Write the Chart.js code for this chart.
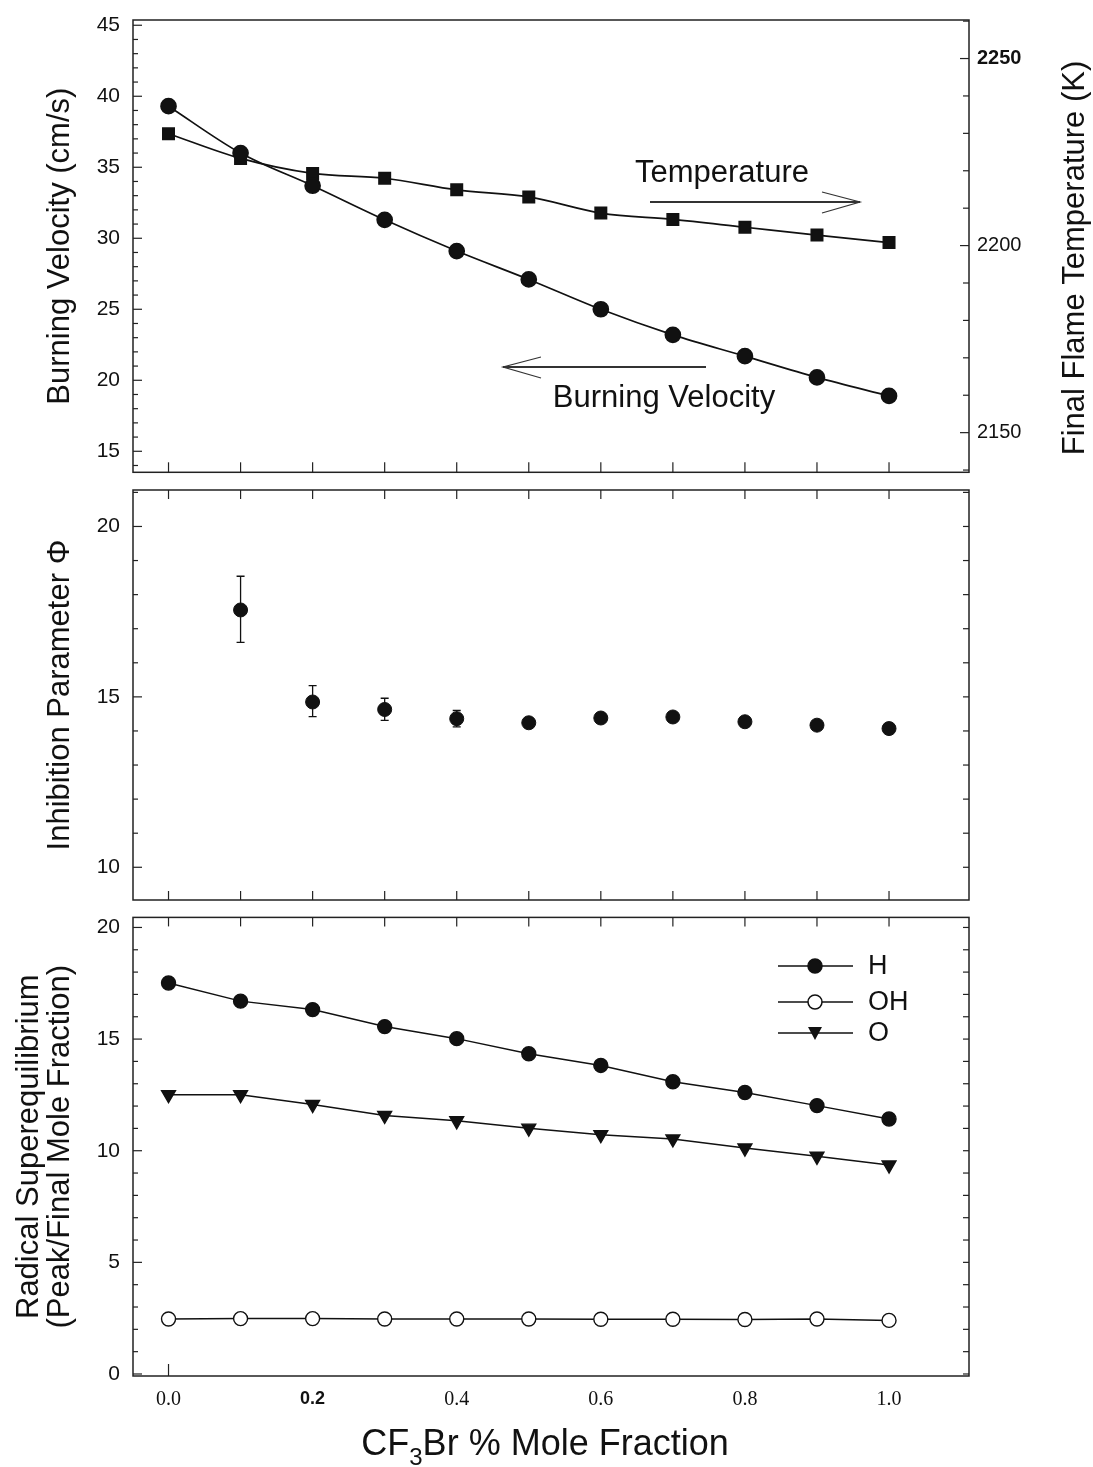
<!DOCTYPE html>
<html>
<head>
<meta charset="utf-8">
<script src="https://cdn.jsdelivr.net/npm/chart.js@4.4.0/dist/chart.umd.min.js"></script>
<style>
  html, body { margin: 0; padding: 0; background: #fff; }
  #wrap { position: relative; width: 1093px; height: 1467px; overflow: hidden; }
  canvas { position: absolute; left: 0; }
</style>
</head>
<body>
<div id="wrap">
  <canvas id="velChart" style="top:0" width="1093" height="482"></canvas>
  <canvas id="phiChart" style="top:482px" width="1093" height="426"></canvas>
  <canvas id="radChart" style="top:908px" width="1093" height="559"></canvas>
</div>
<script>
// CF3Br mole fraction (%)
const moleFraction = [0.0, 0.1, 0.2, 0.3, 0.4, 0.5, 0.6, 0.7, 0.8, 0.9, 1.0];

// top panel
const burningVelocity = [39.3, 36.0, 33.7, 31.3, 29.1, 27.1, 25.0, 23.2, 21.7, 20.2, 18.9];
const flameTemp = [2229.9, 2223.3, 2219.3, 2218.0, 2214.9, 2213.0, 2208.7, 2207.0, 2204.9, 2202.8, 2200.8];

// middle panel (no value at 0.0)
const inhibition = [null, 17.55, 14.85, 14.63, 14.36, 14.24, 14.38, 14.41, 14.27, 14.17, 14.07];
const inhibitionLow = [null, 16.6, 14.42, 14.31, 14.12, 14.10, 14.28, 14.30, 14.18, 14.08, 13.98];
const inhibitionHigh = [null, 18.54, 15.33, 14.96, 14.60, 14.38, 14.48, 14.52, 14.36, 14.26, 14.16];

// bottom panel
const radH = [17.51, 16.70, 16.32, 15.56, 15.02, 14.34, 13.82, 13.09, 12.61, 12.02, 11.42];
const radOH = [2.46, 2.48, 2.48, 2.46, 2.46, 2.46, 2.45, 2.45, 2.44, 2.46, 2.40];
const radO = [12.51, 12.51, 12.07, 11.58, 11.34, 11.01, 10.72, 10.53, 10.12, 9.75, 9.36];

// tick labels
const velTicks = [15, 20, 25, 30, 35, 40, 45];
const tempTicks = [2150, 2200, 2250];
const phiTicks = [10, 15, 20];
const radTicks = [0, 5, 10, 15, 20];
const xTicks = [0.0, 0.2, 0.4, 0.6, 0.8, 1.0];

const SANS = "'Liberation Sans', Arial, Helvetica, sans-serif";
const NARROW = "'Liberation Sans Narrow', 'Arial Narrow', 'Liberation Sans', sans-serif";
const SERIF = "'Liberation Serif', 'Times New Roman', serif";
const INK = '#111';

const X_MIN = -0.0493, X_MAX = 1.111;

function range(a, b, step) {
    const out = [];
    for (let v = a; v <= b + 1e-9; v += step) out.push(+v.toFixed(4));
    return out;
}

function pairs(ys) {
    return moleFraction.map((x, i) => ({ x: x, y: ys[i] }));
}

function fixedTicks(list) {
    return s => { s.ticks = list.map(v => ({ value: v })); };
}

// fixed axis size, and no extra room asked for the tick labels
function fixSize(w, h) {
    return s => {
        if (w != null) s.width = w;
        if (h != null) s.height = h;
        s.paddingTop = 0; s.paddingBottom = 0;
        s.paddingLeft = 0; s.paddingRight = 0;
    };
}

// x axis of the upper panels: no labels, just a fixed strip
const quietX = {
    type: 'linear', min: X_MIN, max: X_MAX,
    afterFit: fixSize(null, 5),
    grid: { display: false, drawTicks: false }, border: { display: false },
    ticks: { display: false }
};

// box round the plot + inward tick marks
const framePlugin = {
    id: 'frame',
    afterDraw(chart, args, opts) {
        const { ctx, chartArea: a } = chart;
        ctx.save();
        ctx.strokeStyle = '#222';
        ctx.lineWidth = 1.5;
        ctx.strokeRect(a.left, a.top, a.right - a.left, a.bottom - a.top);
        ctx.lineWidth = 1.2;
        (opts.marks || []).forEach(m => {
            const s = chart.scales[m.scale];
            m.values.forEach(v => {
                const p = s.getPixelForValue(v);
                const len = (m.major && m.major.includes(v)) ? m.len : (m.minorLen || m.len);
                ctx.beginPath();
                if (m.side === 'left') { if (p < a.top || p > a.bottom) return; ctx.moveTo(a.left, p); ctx.lineTo(a.left + len, p); }
                if (m.side === 'right') { if (p < a.top || p > a.bottom) return; ctx.moveTo(a.right, p); ctx.lineTo(a.right - len, p); }
                if (m.side === 'bottom') { ctx.moveTo(p, a.bottom); ctx.lineTo(p, a.bottom - len); }
                if (m.side === 'top') { ctx.moveTo(p, a.top); ctx.lineTo(p, a.top + len); }
                ctx.stroke();
            });
        });
        ctx.restore();
    }
};

// free text, arrows and rotated titles
const notesPlugin = {
    id: 'notes',
    afterDraw(chart, args, opts) {
        const ctx = chart.ctx;
        ctx.save();
        ctx.fillStyle = INK;
        (opts.texts || []).forEach(t => {
            ctx.save();
            ctx.font = t.font;
            ctx.textAlign = 'center';
            ctx.textBaseline = 'middle';
            ctx.translate(t.x, t.y);
            if (t.rotate) ctx.rotate(t.rotate);
            ctx.fillText(t.text, 0, 0);
            ctx.restore();
        });
        (opts.arrows || []).forEach(ar => {
            ctx.strokeStyle = '#333';
            ctx.lineWidth = 2;
            ctx.beginPath();
            ctx.moveTo(ar.x1, ar.y);
            ctx.lineTo(ar.x2, ar.y);
            ctx.stroke();
            const dir = ar.x2 > ar.x1 ? -1 : 1;
            ctx.lineWidth = 1.2;
            ctx.beginPath();
            ctx.moveTo(ar.x2 + dir * 38, ar.y - 10);
            ctx.lineTo(ar.x2, ar.y);
            ctx.lineTo(ar.x2 + dir * 38, ar.y + 11);
            ctx.stroke();
        });
        ctx.restore();
    }
};

// vertical error bars for the inhibition parameter
const errorBarPlugin = {
    id: 'errbars',
    beforeDatasetsDraw(chart) {
        const { ctx } = chart;
        const xs = chart.scales.x, ys = chart.scales.y;
        ctx.save();
        ctx.strokeStyle = INK;
        ctx.lineWidth = 1.3;
        moleFraction.forEach((x, i) => {
            if (inhibitionLow[i] == null) return;
            const px = xs.getPixelForValue(x);
            const top = ys.getPixelForValue(inhibitionHigh[i]);
            const bot = ys.getPixelForValue(inhibitionLow[i]);
            ctx.beginPath();
            ctx.moveTo(px, top); ctx.lineTo(px, bot);
            ctx.moveTo(px - 4, top); ctx.lineTo(px + 4, top);
            ctx.moveTo(px - 4, bot); ctx.lineTo(px + 4, bot);
            ctx.stroke();
        });
        ctx.restore();
    }
};

// legend drawn inside the bottom plot
const radLegendPlugin = {
    id: 'radLegend',
    afterDraw(chart) {
        const ctx = chart.ctx;
        const rows = [
            { label: 'H', y: 58, style: 'dot' },
            { label: 'OH', y: 94, style: 'ring' },
            { label: 'O', y: 125, style: 'tri' }
        ];
        ctx.save();
        rows.forEach(r => {
            ctx.strokeStyle = INK;
            ctx.lineWidth = 1.5;
            ctx.beginPath();
            ctx.moveTo(778, r.y); ctx.lineTo(853, r.y);
            ctx.stroke();
            ctx.beginPath();
            if (r.style === 'tri') {
                ctx.moveTo(808, r.y - 6); ctx.lineTo(822, r.y - 6); ctx.lineTo(815, r.y + 7);
                ctx.closePath();
                ctx.fillStyle = INK; ctx.fill();
            } else {
                ctx.arc(815, r.y, 7, 0, Math.PI * 2);
                ctx.fillStyle = r.style === 'dot' ? INK : '#fff';
                ctx.fill(); ctx.stroke();
            }
            ctx.fillStyle = INK;
            ctx.font = '27px ' + SANS;
            ctx.textAlign = 'left';
            ctx.textBaseline = 'middle';
            ctx.fillText(r.label, 868, r.y + 1);
        });
        // x axis title with subscript
        const cx = 545, base = 547;
        const big = '36px ' + SANS, small = '24px ' + SANS;
        ctx.font = big;
        const w1 = ctx.measureText('CF').width;
        const w3 = ctx.measureText('Br % Mole Fraction').width;
        ctx.font = small;
        const w2 = ctx.measureText('3').width;
        let x = cx - (w1 + w2 + w3) / 2;
        ctx.textAlign = 'left';
        ctx.textBaseline = 'alphabetic';
        ctx.font = big; ctx.fillText('CF', x, base); x += w1;
        ctx.font = small; ctx.fillText('3', x, base + 10); x += w2;
        ctx.font = big; ctx.fillText('Br % Mole Fraction', x, base);
        ctx.restore();
    }
};

const hiddenGrid = { display: false, drawTicks: false };
const noBorder = { display: false };

function leftAxis(min, max, ticks, title, titlePad, lineHeight) {
    return {
        position: 'left', min: min, max: max,
        afterBuildTicks: fixedTicks(ticks),
        afterFit: fixSize(133, null),
        grid: hiddenGrid, border: noBorder,
        ticks: { padding: 13, color: INK, font: { family: NARROW, size: 21 } },
        title: {
            display: true, text: title, color: INK,
            font: { family: SANS, size: 31, lineHeight: lineHeight || 1.2 },
            padding: { top: titlePad, bottom: 0 }
        }
    };
}

const baseOptions = {
    responsive: false,
    animation: false,
    events: []
};

// ---- top: burning velocity and flame temperature ----
new Chart(document.getElementById('velChart'), {
    type: 'line',
    data: {
        datasets: [
            {
                label: 'Burning Velocity', data: pairs(burningVelocity), yAxisID: 'y',
                borderColor: INK, borderWidth: 1.7, cubicInterpolationMode: 'monotone',
                pointStyle: 'circle', pointRadius: 7.5, pointBackgroundColor: INK, pointBorderColor: INK
            },
            {
                label: 'Temperature', data: pairs(flameTemp), yAxisID: 'y1',
                borderColor: INK, borderWidth: 1.7, cubicInterpolationMode: 'monotone',
                pointStyle: 'rect', pointRadius: 8, pointBackgroundColor: INK, pointBorderColor: INK
            }
        ]
    },
    options: {
        ...baseOptions,
        layout: { padding: { top: 20, bottom: 0, left: 0, right: 0 } },
        plugins: {
            legend: { display: false }, tooltip: { enabled: false },
            frame: {
                marks: [
                    { scale: 'y', side: 'left', values: range(14, 45, 1), major: velTicks, len: 9, minorLen: 5 },
                    { scale: 'y1', side: 'right', values: range(2140, 2260, 10), major: tempTicks, len: 9, minorLen: 6 },
                    { scale: 'x', side: 'bottom', values: moleFraction, len: 10 }
                ]
            },
            notes: {
                texts: [
                    { text: 'Temperature', x: 722, y: 173, font: '31px ' + SANS },
                    { text: 'Burning Velocity', x: 664, y: 398, font: '31px ' + SANS },
                    { text: 'Final Flame Temperature (K)', x: 1075, y: 258, rotate: -Math.PI / 2, font: '31px ' + SANS }
                ],
                arrows: [
                    { x1: 650, x2: 860, y: 202 },
                    { x1: 706, x2: 503, y: 367 }
                ]
            }
        },
        scales: {
            x: quietX,
            y: leftAxis(13.52, 45.37, velTicks, 'Burning Velocity (cm/s)', 42),
            y1: {
                position: 'right', min: 2139.4, max: 2260.3,
                afterBuildTicks: fixedTicks(tempTicks),
                afterFit: fixSize(124, null),
                grid: hiddenGrid, border: noBorder,
                ticks: {
                    padding: 8, color: INK,
                    callback: v => String(v),
                    font: ctx => ({ family: SANS, size: 20, weight: ctx.tick && ctx.tick.value === 2250 ? 'bold' : 'normal' })
                }
            }
        }
    },
    plugins: [framePlugin, notesPlugin]
});

// ---- middle: inhibition parameter ----
new Chart(document.getElementById('phiChart'), {
    type: 'scatter',
    data: {
        datasets: [{
            label: 'Inhibition Parameter', data: pairs(inhibition),
            pointStyle: 'circle', pointRadius: 7, pointBackgroundColor: INK, pointBorderColor: INK,
            showLine: false
        }]
    },
    options: {
        ...baseOptions,
        layout: { padding: { top: 6, bottom: 0, left: 0, right: 124 } },
        plugins: {
            legend: { display: false }, tooltip: { enabled: false },
            frame: {
                marks: [
                    { scale: 'y', side: 'left', values: range(9, 21, 1), major: phiTicks, len: 9, minorLen: 5 },
                    { scale: 'y', side: 'right', values: range(9, 21, 1), len: 6 },
                    { scale: 'x', side: 'top', values: moleFraction, len: 9 },
                    { scale: 'x', side: 'bottom', values: moleFraction, len: 9 }
                ]
            }
        },
        scales: {
            x: quietX,
            y: leftAxis(9.04, 21.07, phiTicks, 'Inhibition Parameter \u03A6', 42)
        }
    },
    plugins: [framePlugin, errorBarPlugin]
});

// ---- bottom: radical superequilibrium ----
const radLine = { borderColor: INK, borderWidth: 1.5, tension: 0, pointBorderColor: INK, pointBorderWidth: 1.4 };
new Chart(document.getElementById('radChart'), {
    type: 'line',
    data: {
        datasets: [
            { ...radLine, label: 'H', data: pairs(radH), pointStyle: 'circle', pointRadius: 7, pointBackgroundColor: INK },
            { ...radLine, label: 'OH', data: pairs(radOH), pointStyle: 'circle', pointRadius: 7, pointBackgroundColor: '#fff' },
            { ...radLine, label: 'O', data: pairs(radO), pointStyle: 'triangle', pointRotation: 180, pointRadius: 8, pointBackgroundColor: INK }
        ]
    },
    options: {
        ...baseOptions,
        layout: { padding: { top: 8, bottom: 0, left: 0, right: 124 } },
        plugins: {
            legend: { display: false }, tooltip: { enabled: false },
            frame: {
                marks: [
                    { scale: 'y', side: 'left', values: range(0, 20, 1), major: radTicks, len: 9, minorLen: 5 },
                    { scale: 'y', side: 'right', values: range(0, 20, 1), len: 6 },
                    { scale: 'x', side: 'top', values: moleFraction, len: 9 },
                    { scale: 'x', side: 'bottom', values: [0], len: 12 }
                ]
            }
        },
        scales: {
            x: {
                type: 'linear', min: X_MIN, max: X_MAX,
                afterBuildTicks: fixedTicks(xTicks),
                afterFit: fixSize(null, 91),
                grid: hiddenGrid, border: noBorder,
                ticks: {
                    padding: 12, color: INK, maxRotation: 0,
                    callback: v => v.toFixed(1),
                    font: ctx => (ctx.tick && Math.abs(ctx.tick.value - 0.2) < 1e-6)
                        ? { family: SANS, size: 18, weight: 'bold' }
                        : { family: SERIF, size: 20 }
                }
            },
            y: leftAxis(-0.09, 20.45, radTicks, ['Radical Superequilibrium', '(Peak/Final Mole Fraction)'], 14, 1.0)
        }
    },
    plugins: [framePlugin, radLegendPlugin]
});
</script>
</body>
</html>
